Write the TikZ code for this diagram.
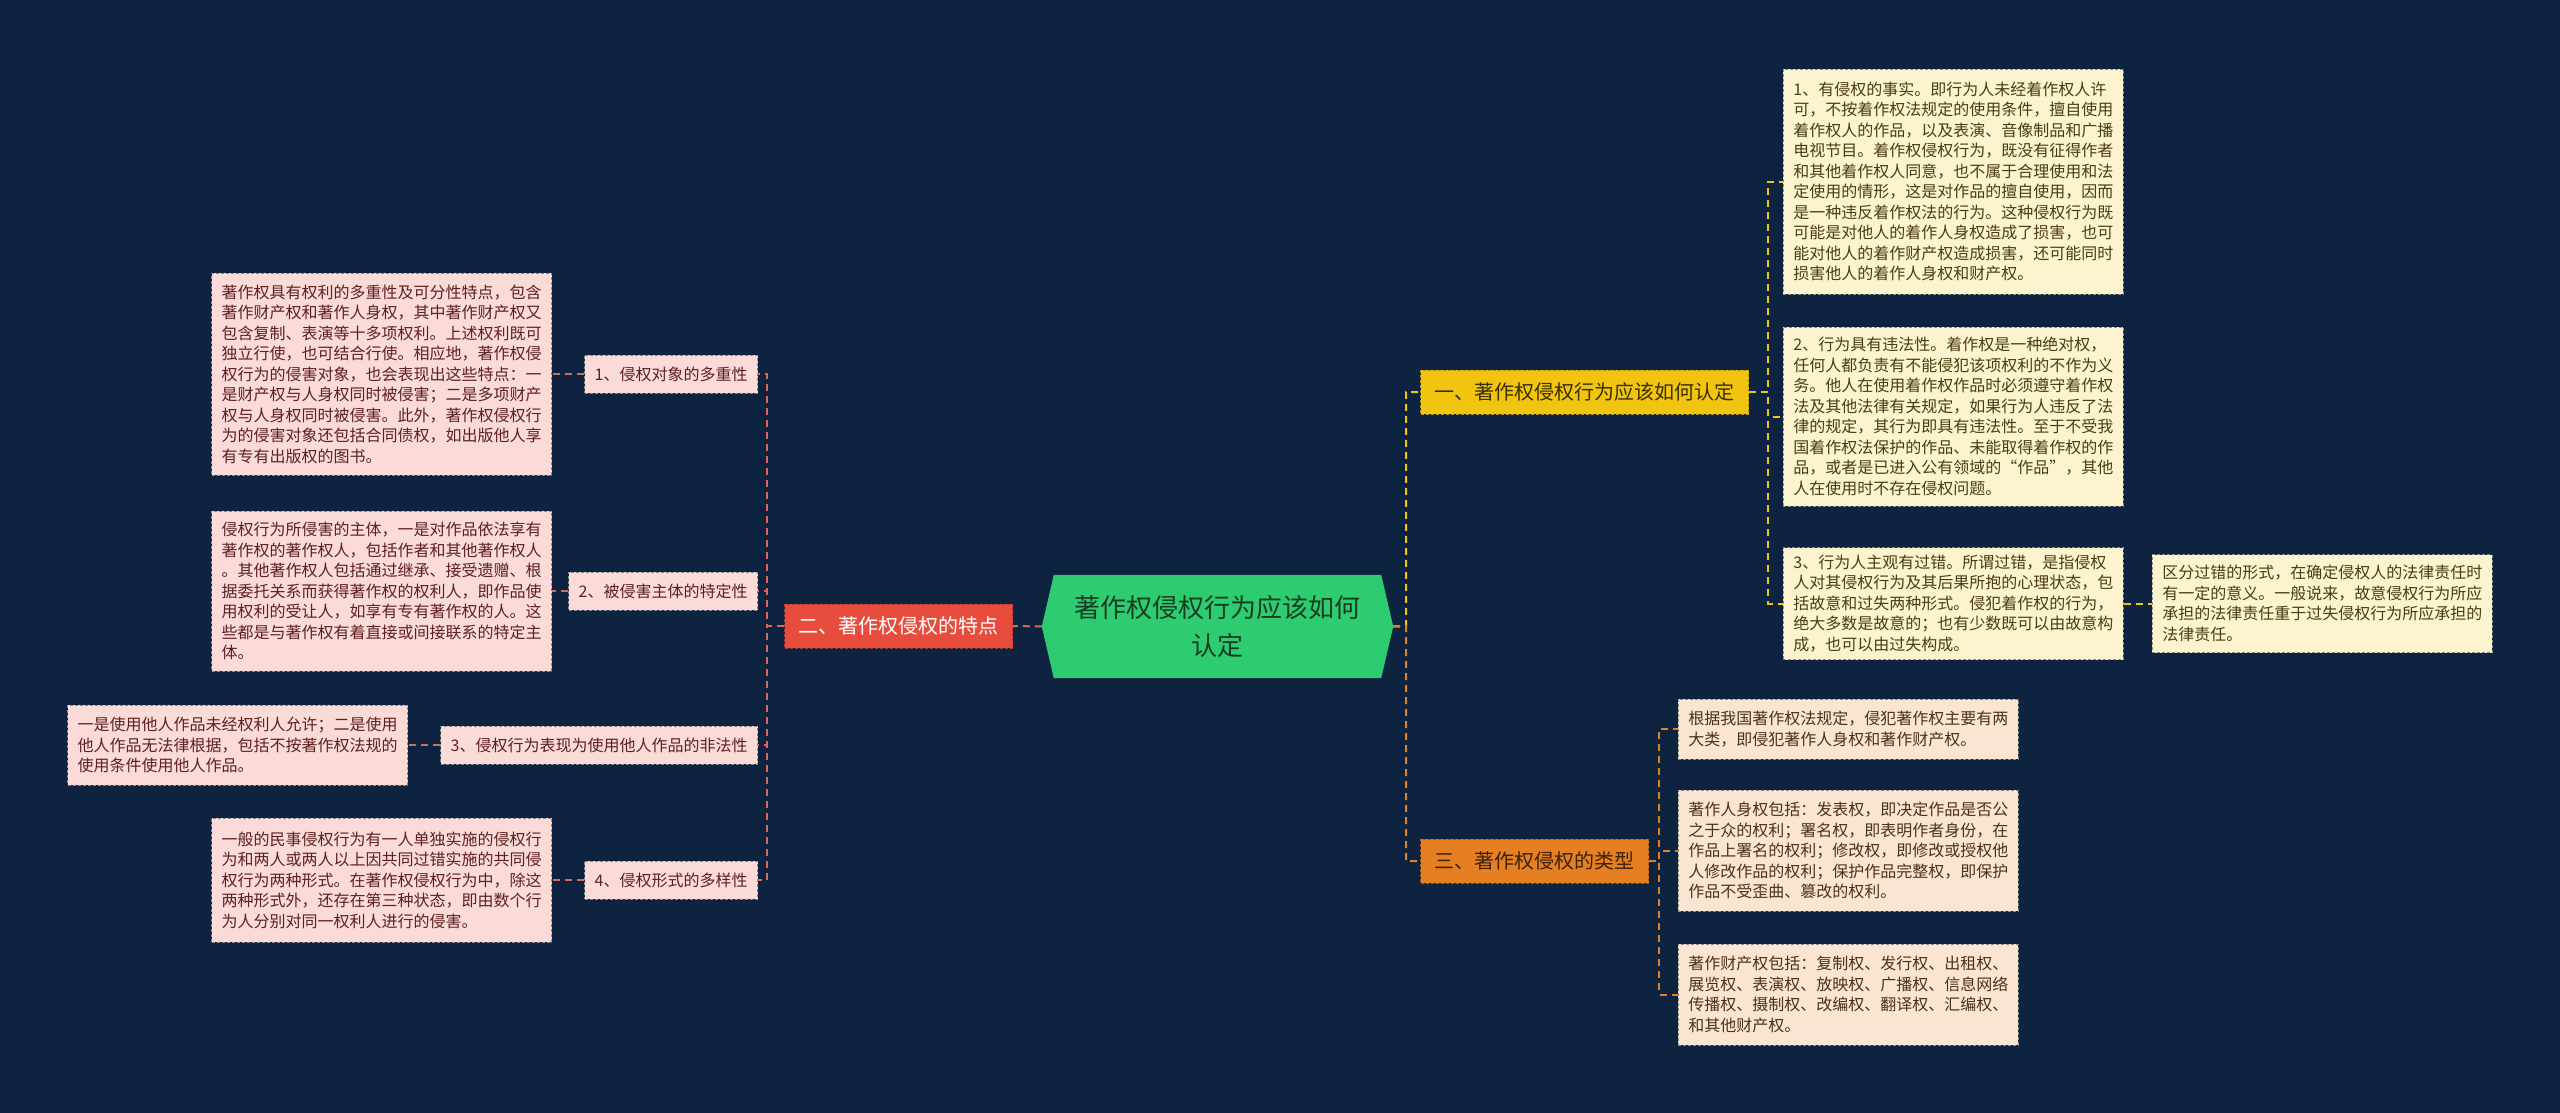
\documentclass[tikz,border=0pt]{standalone}
\usepackage{fontspec}
\setmainfont{Noto Sans CJK SC}
\usetikzlibrary{backgrounds}
\definecolor{bgc}{RGB}{14,35,64}
\definecolor{rootfill}{HTML}{2ECC71}
\definecolor{roottext}{HTML}{163D22}
\definecolor{redfill}{HTML}{E74C3C}
\definecolor{redborder}{HTML}{B03A2E}
\definecolor{redline}{HTML}{E0665A}
\definecolor{pinkfill}{HTML}{FADBD8}
\definecolor{pinktext}{HTML}{5E2020}
\definecolor{yfill}{HTML}{F1C40F}
\definecolor{yborder}{HTML}{B7950B}
\definecolor{ytext}{HTML}{3B3000}
\definecolor{creamfill}{HTML}{FCF3CF}
\definecolor{creamtext}{HTML}{4A3D0E}
\definecolor{ofill}{HTML}{E67E22}
\definecolor{oborder}{HTML}{A85A15}
\definecolor{otext}{HTML}{3E2208}
\definecolor{peachfill}{HTML}{FAE5D3}
\definecolor{peachtext}{HTML}{4E3015}
\definecolor{leafborder}{HTML}{8A8A8A}
\begin{document}
\begin{tikzpicture}[x=1pt,y=-1pt,
  leaf/.style={draw=leafborder, dash pattern=on 3pt off 2pt, line width=0.8pt,
    inner xsep=10pt, inner ysep=4pt, align=left, text width=320pt,
    font=\fontsize{16}{20.5}\selectfont},
  pinkleaf/.style={leaf, fill=pinkfill, text=pinktext},
  creamleaf/.style={leaf, fill=creamfill, text=creamtext},
  peachleaf/.style={leaf, fill=peachfill, text=peachtext},
  subnode/.style={draw=leafborder, dash pattern=on 3pt off 2pt, line width=0.8pt,
    fill=pinkfill, text=pinktext, inner xsep=10pt, minimum height=38pt,
    font=\fontsize{16}{20}\selectfont},
  branch/.style={dash pattern=on 3pt off 2pt, line width=1pt, inner xsep=14pt,
    minimum height=44pt, font=\fontsize{20}{24}\selectfont},
  redbox/.style={branch, draw=redborder, fill=redfill, text=white},
  ybox/.style={branch, draw=yborder, fill=yfill, text=ytext},
  obox/.style={branch, draw=oborder, fill=ofill, text=otext},
  rootnode/.style={minimum width=351pt, minimum height=103pt, align=center,
    text=roottext, font=\fontsize{26}{38}\selectfont},
  rline/.style={draw=redline, line width=2pt, dash pattern=on 7pt off 5pt},
  yline/.style={draw=yfill, line width=2pt, dash pattern=on 7pt off 5pt},
  oline/.style={draw=ofill, line width=2pt, dash pattern=on 7pt off 5pt}
]
\begin{scope}[on background layer]
\fill[bgc] (0,0) rectangle (2560,1113);
\end{scope}
\useasboundingbox (0,0) rectangle (2560,1113);

% root
\node[rootnode] (root) at (1217.5,626.5) {著作权侵权行为应该如何\\认定};
\begin{scope}[on background layer]
\fill[rootfill] (root.west) -- ([xshift=12pt]root.north west) -- ([xshift=-12pt]root.north east)
  -- (root.east) -- ([xshift=-12pt]root.south east) -- ([xshift=12pt]root.south west) -- cycle;
\end{scope}

% left branch
\node[redbox] (two) at (898.5,626) {二、著作权侵权的特点};
\node[subnode, anchor=east] (s1) at (758,374) {1、侵权对象的多重性};
\node[subnode, anchor=east] (s2) at (758,591) {2、被侵害主体的特定性};
\node[subnode, anchor=east] (s3) at (758,745) {3、侵权行为表现为使用他人作品的非法性};
\node[subnode, anchor=east] (s4) at (758,880) {4、侵权形式的多样性};

\node[pinkleaf, anchor=east, minimum height=202pt] (l1) at (552,374) {著作权具有权利的多重性及可分性特点，包含\\著作财产权和著作人身权，其中著作财产权又\\包含复制、表演等十多项权利。上述权利既可\\独立行使，也可结合行使。相应地，著作权侵\\权行为的侵害对象，也会表现出这些特点：一\\是财产权与人身权同时被侵害；二是多项财产\\权与人身权同时被侵害。此外，著作权侵权行\\为的侵害对象还包括合同债权，如出版他人享\\有专有出版权的图书。};
\node[pinkleaf, anchor=east, minimum height=160pt] (l2) at (552,591) {侵权行为所侵害的主体，一是对作品依法享有\\著作权的著作权人，包括作者和其他著作权人\\。其他著作权人包括通过继承、接受遗赠、根\\据委托关系而获得著作权的权利人，即作品使\\用权利的受让人，如享有专有著作权的人。这\\些都是与著作权有着直接或间接联系的特定主\\体。};
\node[pinkleaf, anchor=east, minimum height=80pt] (l3) at (408,745) {一是使用他人作品未经权利人允许；二是使用\\他人作品无法律根据，包括不按著作权法规的\\使用条件使用他人作品。};
\node[pinkleaf, anchor=east, minimum height=124pt] (l4) at (552,880) {一般的民事侵权行为有一人单独实施的侵权行\\为和两人或两人以上因共同过错实施的共同侵\\权行为两种形式。在著作权侵权行为中，除这\\两种形式外，还存在第三种状态，即由数个行\\为人分别对同一权利人进行的侵害。};

\coordinate (ls) at (767,626);
\draw[rline] (root.west) -- (two.east);
\foreach \s in {s1,s2,s3,s4} {\draw[rline] (two.west) -- (ls) |- (\s.east);}
\draw[rline] (s1.west) -- (l1.east);
\draw[rline] (s2.west) -- (l2.east);
\draw[rline] (s3.west) -- (l3.east);
\draw[rline] (s4.west) -- (l4.east);

% right branch
\node[ybox, anchor=west] (one) at (1420,392) {一、著作权侵权行为应该如何认定};
\node[obox, anchor=west] (three) at (1420,861) {三、著作权侵权的类型};

\node[creamleaf, anchor=west, minimum height=225pt] (a1) at (1783,181.5) {1、有侵权的事实。即行为人未经着作权人许\\可，不按着作权法规定的使用条件，擅自使用\\着作权人的作品，以及表演、音像制品和广播\\电视节目。着作权侵权行为，既没有征得作者\\和其他着作权人同意，也不属于合理使用和法\\定使用的情形，这是对作品的擅自使用，因而\\是一种违反着作权法的行为。这种侵权行为既\\可能是对他人的着作人身权造成了损害，也可\\能对他人的着作财产权造成损害，还可能同时\\损害他人的着作人身权和财产权。};
\node[creamleaf, anchor=west, minimum height=179pt] (a2) at (1783,416.5) {2、行为具有违法性。着作权是一种绝对权，\\任何人都负责有不能侵犯该项权利的不作为义\\务。他人在使用着作权作品时必须遵守着作权\\法及其他法律有关规定，如果行为人违反了法\\律的规定，其行为即具有违法性。至于不受我\\国着作权法保护的作品、未能取得着作权的作\\品，或者是已进入公有领域的“作品”，其他\\人在使用时不存在侵权问题。};
\node[creamleaf, anchor=west, minimum height=112pt] (a3) at (1783,603.5) {3、行为人主观有过错。所谓过错，是指侵权\\人对其侵权行为及其后果所抱的心理状态，包\\括故意和过失两种形式。侵犯着作权的行为，\\绝大多数是故意的；也有少数既可以由故意构\\成，也可以由过失构成。};
\node[creamleaf, anchor=west, minimum height=98pt] (a4) at (2152,603.5) {区分过错的形式，在确定侵权人的法律责任时\\有一定的意义。一般说来，故意侵权行为所应\\承担的法律责任重于过失侵权行为所应承担的\\法律责任。};

\node[peachleaf, anchor=west, minimum height=60pt] (b1) at (1678,729) {根据我国著作权法规定，侵犯著作权主要有两\\大类，即侵犯著作人身权和著作财产权。};
\node[peachleaf, anchor=west, minimum height=121pt] (b2) at (1678,850.5) {著作人身权包括：发表权，即决定作品是否公\\之于众的权利；署名权，即表明作者身份，在\\作品上署名的权利；修改权，即修改或授权他\\人修改作品的权利；保护作品完整权，即保护\\作品不受歪曲、篡改的权利。};
\node[peachleaf, anchor=west, minimum height=101pt] (b3) at (1678,994.5) {著作财产权包括：复制权、发行权、出租权、\\展览权、表演权、放映权、广播权、信息网络\\传播权、摄制权、改编权、翻译权、汇编权、\\和其他财产权。};

\coordinate (rs) at (1406,626);
\draw[yline] (root.east) -- (rs) |- (one.west);
\draw[oline] (root.east) -- (rs) |- (three.west);
\coordinate (r1s) at (1768,392);
\foreach \t in {a1,a2,a3} {\draw[yline] (one.east) -- (r1s) |- (\t.west);}
\draw[yline] (a3.east) -- (a4.west);
\coordinate (r3s) at (1659,861);
\foreach \t in {b1,b2,b3} {\draw[oline] (three.east) -- (r3s) |- (\t.west);}
\end{tikzpicture}
\end{document}
